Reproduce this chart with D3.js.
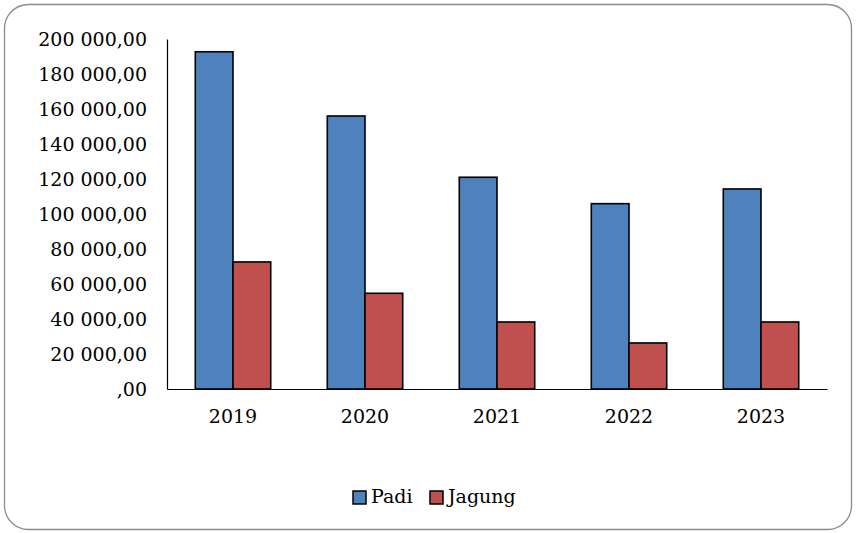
<!DOCTYPE html>
<html>
<head>
<meta charset="utf-8">
<script src="https://cdn.jsdelivr.net/npm/d3@7"></script>
<style>
html,body{margin:0;padding:0;background:#fff;}
svg{display:block;}
svg text{font-family:"DejaVu Serif",serif !important;fill:#000;}
</style>
</head>
<body>
<svg id="chart" width="856" height="533"></svg>
<script>
const categories = ["2019", "2020", "2021", "2022", "2023"];
const seriesNames = ["Padi", "Jagung"];
const padi = [192700, 156000, 121000, 105900, 114300];
const jagung = [72600, 54700, 38300, 26300, 38300];
const yTicks = [0, 20000, 40000, 60000, 80000, 100000, 120000, 140000, 160000, 180000, 200000];
const colors = ["#4F81BD", "#C0504D"];

(function () {
const svg = d3.select("#chart");
const W = 856, H = 533;

svg.append("rect")
  .attr("x", 4.5).attr("y", 4.5)
  .attr("width", W - 9).attr("height", H - 8)
  .attr("rx", 24).attr("ry", 24)
  .attr("fill", "#fff").attr("stroke", "#8c8c8c").attr("stroke-width", 1.3);

const mLeft = 167, mRight = 827, mTop = 39, mBottom = 389;

const x0 = d3.scaleBand().domain(categories).range([mLeft, mRight])
  .paddingInner(0.4286).paddingOuter(0.2143);
const x1 = d3.scaleBand().domain(seriesNames).range([0, x0.bandwidth()]);
const y = d3.scaleLinear().domain([0, 200000]).range([mBottom, mTop]);

const fmt = v => {
  if (v === 0) return ",00";
  const s = d3.format(",")(v).replace(/,/g, " ");
  return s + ",00";
};

const yAxis = svg.append("g").attr("transform", `translate(${mLeft},0)`)
  .call(d3.axisLeft(y).tickValues(yTicks).tickSize(0).tickPadding(20).tickFormat(fmt));
yAxis.attr("font-family", null);
yAxis.select(".domain").attr("stroke", "#000").attr("stroke-width", 1.2);
yAxis.selectAll("text").style("font-size", "19px").attr("fill", "#000");

const data = categories.map((c, i) => ({cat: c, vals: [padi[i], jagung[i]]}));
const groups = svg.append("g").selectAll("g").data(data).join("g")
  .attr("transform", d => `translate(${x0(d.cat)},0)`);
groups.selectAll("rect").data(d => d.vals.map((v, j) => ({name: seriesNames[j], v, j})))
  .join("rect")
  .attr("x", d => x1(d.name))
  .attr("y", d => y(d.v))
  .attr("width", x1.bandwidth())
  .attr("height", d => y(0) - y(d.v))
  .attr("fill", d => colors[d.j])
  .attr("stroke", "#000").attr("stroke-width", 1.6);

const xAxis = svg.append("g").attr("transform", `translate(0,${mBottom})`)
  .call(d3.axisBottom(x0).tickSize(0).tickPadding(21).tickSizeOuter(0));
xAxis.attr("font-family", null);
xAxis.select(".domain").attr("stroke", "#000").attr("stroke-width", 1.2);
xAxis.selectAll("text").style("font-size", "19px").attr("fill", "#000");

const legend = svg.append("g");
const legX = [353, 430];
seriesNames.forEach((n, i) => {
  legend.append("rect").attr("x", legX[i]).attr("y", 491).attr("width", 13).attr("height", 13)
    .attr("fill", colors[i]).attr("stroke", "#000").attr("stroke-width", 1.5);
  legend.append("text").attr("x", legX[i] + 18).attr("y", 503)
    .style("font-size", "19px").text(n);
});
})();
</script>
</body>
</html>
